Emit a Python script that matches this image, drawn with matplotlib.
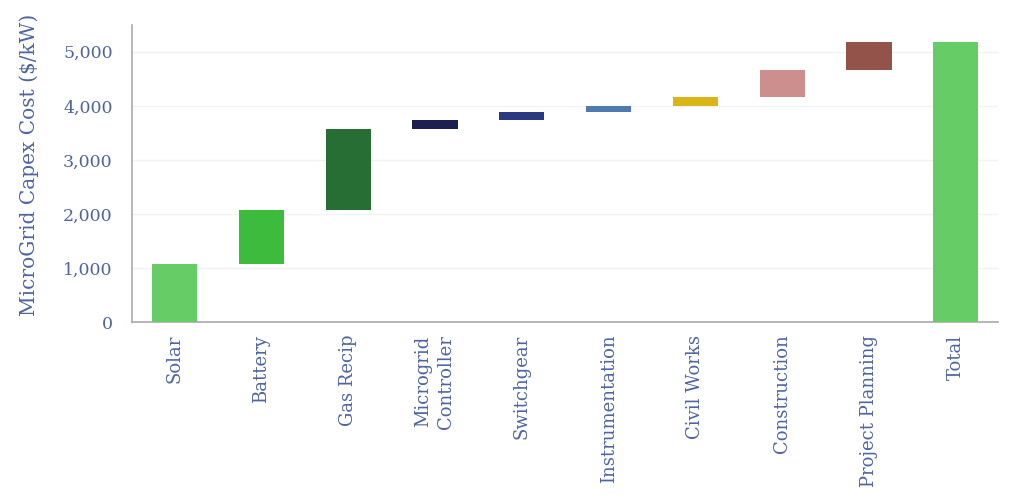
import numpy as np
import matplotlib.pyplot as plt

categories = ["Solar", "Battery", "Gas Recip", "Microgrid\nController", "Switchgear",
              "Instrumentation", "Civil Works", "Construction", "Project Planning", "Total"]
# cost steps in $/kW, last entry is the total
steps = [1070, 1000, 1510, 150, 150, 110, 180, 500, 510]
colors = ["#66cc66", "#3dbb3d", "#276e34", "#1b2050", "#2b3a80",
          "#4f7ab0", "#d9b516", "#cd8f8d", "#93524a", "#66cc66"]

tops = np.cumsum(steps)
bottoms = np.concatenate([[0], tops[:-1]])
total = tops[-1]
heights = list(steps) + [total]
bases = list(bottoms) + [0]

text_col = "#4e64a0"
plt.rcParams['font.family'] = ['DejaVu Serif']

fig = plt.figure(figsize=(10.24, 4.95), dpi=100)
ax = fig.add_axes([0.129, 0.349, 0.846, 0.601])

x = np.arange(len(categories))
ax.bar(x, heights, bottom=bases, width=0.52, color=colors, zorder=3)

ax.set_xlim(-0.49, len(categories) - 0.51)
ax.set_ylim(0, 5500)
ax.set_yticks(range(0, 5001, 1000))
ax.set_yticklabels([f"{v:,}" for v in range(0, 5001, 1000)])
ax.yaxis.grid(True, color="#f2f2f2", linewidth=1, zorder=0)

ax.set_xticks(x)
ax.set_xticklabels(categories, rotation=90, va="top", ha="center", linespacing=1.35)
ax.tick_params(axis="both", length=0, colors=text_col, labelsize=12.5)
ax.tick_params(axis="x", labelsize=13, pad=9)
ax.tick_params(axis="y", pad=14)

ax.set_ylabel("MicroGrid Capex Cost ($/kW)", color=text_col, fontsize=14.5)
ax.yaxis.set_label_coords(-0.108, 0.53)

for s in ["top", "right"]:
    ax.spines[s].set_visible(False)
for s in ["left", "bottom"]:
    ax.spines[s].set_color("#aaaaaa")
    ax.spines[s].set_linewidth(1.2)

fig.savefig("out.png", dpi=100, facecolor="white")
